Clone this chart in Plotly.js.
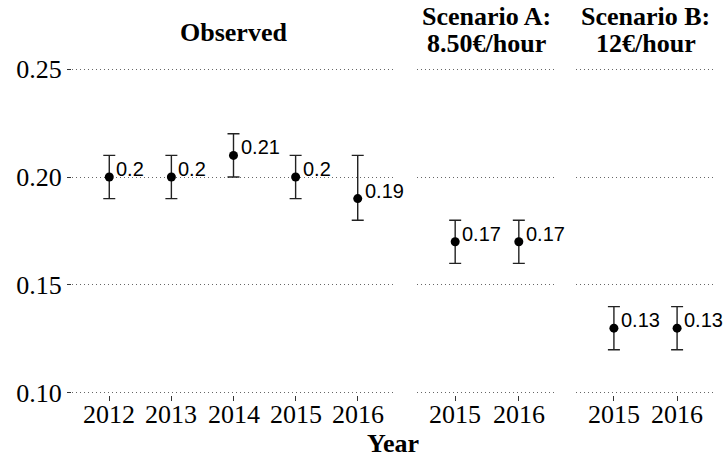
<!DOCTYPE html>
<html>
<head>
<meta charset="utf-8">
<script src="https://cdn.plot.ly/plotly-3.0.1.min.js"></script>
<style>html,body{margin:0;padding:0;background:#fff;}#chart{width:726px;height:457px;}</style>
</head>
<body>
<div id="chart"></div>
<script>
// ---- data ----
const obsYears = ['2012', '2013', '2014', '2015', '2016'];
const obsVals  = [0.20, 0.20, 0.21, 0.20, 0.19];
const obsUpper = [0.21, 0.21, 0.22, 0.21, 0.21];
const obsLower = [0.19, 0.19, 0.20, 0.19, 0.18];

const scenYears = ['2015', '2016'];
const aVals  = [0.17, 0.17];
const aUpper = [0.18, 0.18];
const aLower = [0.16, 0.16];
const bVals  = [0.13, 0.13];
const bUpper = [0.14, 0.14];
const bLower = [0.12, 0.12];

const panelTitles = [['Observed'], ['Scenario A:', '8.50€/hour'], ['Scenario B:', '12€/hour']];
const yTicks = [0.10, 0.15, 0.20, 0.25];
const yTickText = ['0.10', '0.15', '0.20', '0.25'];
const xLabel = 'Year';

// ---- layout helpers ----
const W = 726, H = 457;
const px = v => v / W;
const py = v => 1 - v / H;
const serif = 'Liberation Serif, Times New Roman, serif';
const sans = 'Liberation Sans, Arial, sans-serif';

const groups = [
  {x: obsYears, y: obsVals, up: obsUpper, lo: obsLower, xa: 'x'},
  {x: scenYears, y: aVals, up: aUpper, lo: aLower, xa: 'x2'},
  {x: scenYears, y: bVals, up: bUpper, lo: bLower, xa: 'x3'}
];

const traces = groups.map(g => ({
  type: 'scatter', mode: 'markers',
  x: g.x, y: g.y, xaxis: g.xa, yaxis: 'y',
  marker: {color: '#000', size: 9},
  error_y: {
    type: 'data', symmetric: false,
    array: g.up.map((u, i) => +(u - g.y[i]).toFixed(4)),
    arrayminus: g.lo.map((l, i) => +(g.y[i] - l).toFixed(4)),
    color: '#222', thickness: 1.4, width: 6
  },
  hoverinfo: 'skip', showlegend: false
}));

const annotations = [];
groups.forEach(g => {
  g.x.forEach((xv, i) => {
    // value label (x given as category index)
    annotations.push({
      x: i, y: g.y[i], xref: g.xa, yref: 'y',
      text: String(g.y[i]), showarrow: false,
      xanchor: 'left', yanchor: 'bottom', xshift: 5, yshift: -5,
      font: {family: sans, size: 20, color: '#000'}
    });
    // x tick label
    annotations.push({
      x: i, y: py(414), xref: g.xa, yref: 'paper',
      text: xv, showarrow: false, xanchor: 'center', yanchor: 'middle',
      font: {family: serif, size: 26, color: '#000'}
    });
  });
});

const domains = [[72, 395], [417, 557], [576, 715]];
domains.forEach((d, i) => {
  const lines = panelTitles[i];
  const centers = lines.length === 1 ? [32.5] : [16.5, 44];
  lines.forEach((t, j) => {
    annotations.push({
      x: px((d[0] + d[1]) / 2), y: py(centers[j]), xref: 'paper', yref: 'paper',
      text: '<b>' + t + '</b>', showarrow: false, xanchor: 'center', yanchor: 'middle',
      font: {family: serif, size: 26, color: '#000'}
    });
  });
});
annotations.push({
  x: px((72 + 715) / 2), y: py(443), xref: 'paper', yref: 'paper',
  text: '<b>' + xLabel + '</b>', showarrow: false, xanchor: 'center', yanchor: 'middle',
  font: {family: serif, size: 26, color: '#000'}
});

const xBase = {
  type: 'category', showgrid: false, zeroline: false, showline: false,
  ticks: 'outside', ticklen: 5, tickwidth: 1, tickcolor: '#333',
  showticklabels: false, anchor: 'y'
};

const layout = {
  width: W, height: H,
  margin: {l: 0, r: 0, t: 0, b: 0},
  paper_bgcolor: '#fff', plot_bgcolor: '#fff',
  xaxis:  Object.assign({}, xBase, {domain: [px(72), px(395)], range: [-0.6, 4.6]}),
  xaxis2: Object.assign({}, xBase, {domain: [px(417), px(557)], range: [-0.6, 1.6]}),
  xaxis3: Object.assign({}, xBase, {domain: [px(576), px(715)], range: [-0.6, 1.6]}),
  yaxis: {
    domain: [py(395), py(63.6)], range: [0.09907, 0.2525],
    tickvals: yTicks, ticktext: yTickText,
    showgrid: true, gridcolor: '#666', gridwidth: 1, griddash: '1px,3px',
    zeroline: false, showline: false,
    ticks: 'outside', ticklen: 4, tickwidth: 1, tickcolor: '#333',
    tickfont: {family: serif, size: 26, color: '#000'}, anchor: 'x'
  },
  annotations: annotations,
  showlegend: false
};

Plotly.newPlot('chart', traces, layout, {displayModeBar: false, staticPlot: true});
</script>
</body>
</html>
